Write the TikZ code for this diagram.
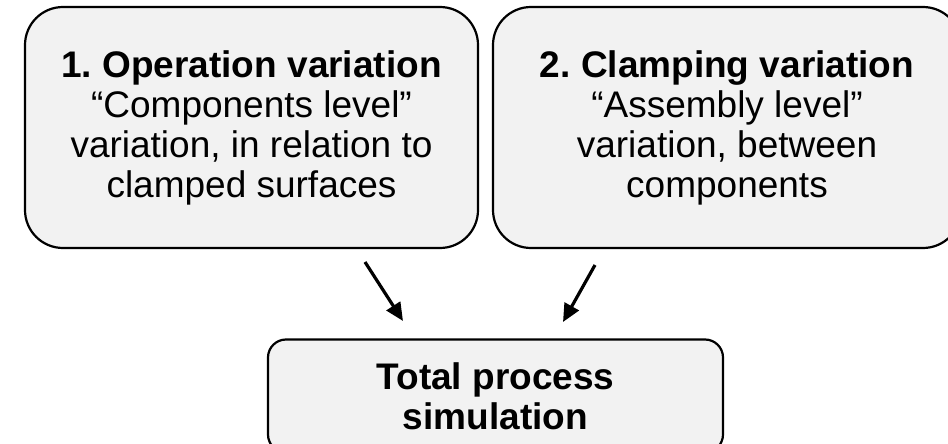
\documentclass[tikz,border=0pt]{standalone}
\usepackage{fontspec}
\setmainfont{Liberation Sans}
\usetikzlibrary{arrows.meta}
\definecolor{boxfill}{HTML}{F2F2F2}
\frenchspacing
\tikzset{
  panel/.style={draw=black, line width=2.2pt, fill=boxfill, align=center,
    font=\fontsize{37}{40}\selectfont, inner sep=0pt},
  bigpanel/.style={panel, rounded corners=38pt},
  smallpanel/.style={panel, rounded corners=18pt},
  flow/.style={line width=3.2pt, -{Triangle[length=18pt,width=16pt]}}
}
\begin{document}
\begin{tikzpicture}[x=1pt,y=-1pt]
  \useasboundingbox (0,0) rectangle (948,444);
  \clip (0,0) rectangle (948,444);
  \fill[white] (0,0) rectangle (948,444);

  % upper panels
  \node[bigpanel, minimum width=453pt, minimum height=241pt] (b1) at (251.5,127.5)
    {\textbf{1. Operation variation}\\``Components level''\\variation, in relation to\\clamped surfaces};
  \node[bigpanel, minimum width=468pt, minimum height=241pt] (b2) at (727,127.5)
    {\textbf{2. Clamping variation}\\``Assembly level''\\variation, between\\components};

  % lower panel
  \node[smallpanel, minimum width=455pt, minimum height=113pt] (b3) at (495.5,396)
    {\textbf{Total process}\\\textbf{simulation}};

  % arrow ends
  \coordinate (a1s) at (365,262);
  \coordinate (a1e) at (403,321);
  \coordinate (a2s) at (595,265);
  \coordinate (a2e) at (563,322);

  \draw[flow] (a1s) -- (a1e);
  \draw[flow] (a2s) -- (a2e);
\end{tikzpicture}
\end{document}
